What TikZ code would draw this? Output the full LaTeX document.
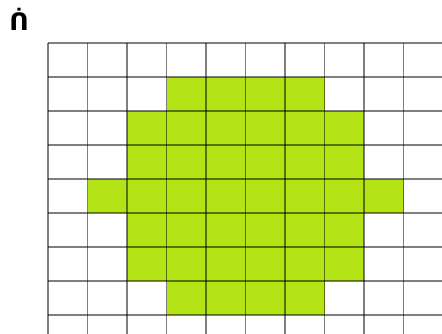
\documentclass[tikz,border=0pt]{standalone}
\usepackage{fontspec}
\newfontfamily\symfont{DejaVu Sans}
\definecolor{padgreen}{RGB}{180,227,22}
\begin{document}
\begin{tikzpicture}[
    x=0.75pt, y=-0.75pt,
    % one filled square of the grid
    cell/.style={fill=padgreen, draw=none},
    gridline/.style={draw=black, opacity=0.5, line width=1.1pt},
    label/.style={font=\symfont\bfseries\fontsize{18}{18}\selectfont, inner sep=0pt},
    ]
    \useasboundingbox (0,0) rectangle (442,333);
    \node[label, anchor=base] (sym) at (19,30) {ᑏ};
    % green squares, row / first column / last column
    \foreach \r/\a/\b in {1/3/6, 2/2/7, 3/2/7, 4/1/8, 5/2/7, 6/2/7, 7/3/6}
        \foreach \c in {\a,...,\b}
            \path[cell] ({48+39.5*\c},{43+34*\r}) rectangle ++(39.5,34);
    \begin{scope}
        \clip (0,0) rectangle (442,333);
        \foreach \c in {0,...,10}
            \draw[gridline] ({48+39.5*\c},43) -- ({48+39.5*\c},340);
        \foreach \r in {0,...,8}
            \draw[gridline] (48,{43+34*\r}) -- (450,{43+34*\r});
    \end{scope}
\end{tikzpicture}
\end{document}
